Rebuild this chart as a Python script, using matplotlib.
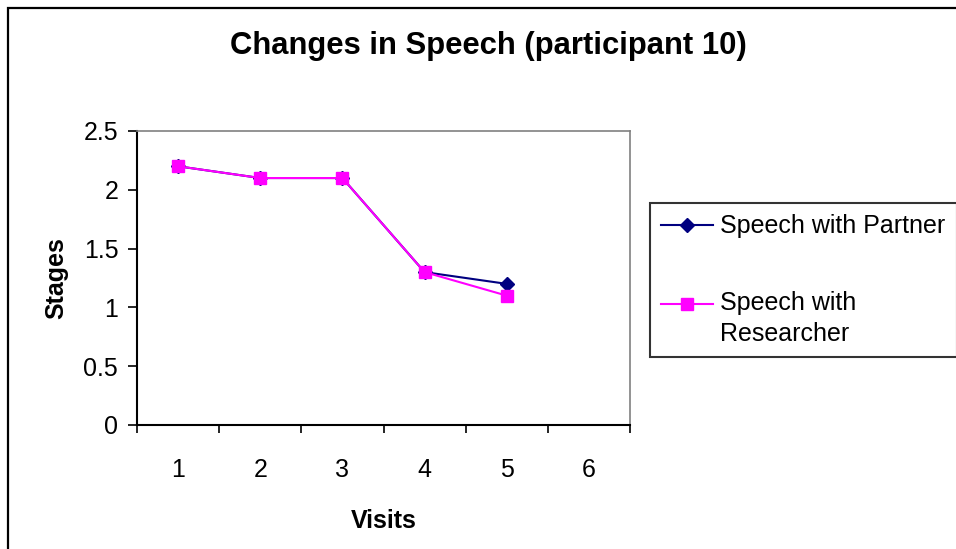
import matplotlib.pyplot as plt
from matplotlib.patches import Rectangle
from matplotlib.legend_handler import HandlerLine2D
from matplotlib.transforms import Affine2D

visits = [1, 2, 3, 4, 5]
visit_labels = ["1", "2", "3", "4", "5", "6"]
partner = [2.2, 2.1, 2.1, 1.3, 1.2]
researcher = [2.2, 2.1, 2.1, 1.3, 1.1]
y_ticks = [0, 0.5, 1, 1.5, 2, 2.5]
y_labels = ["0", "0.5", "1", "1.5", "2", "2.5"]

plt.rcParams['font.family'] = ['Liberation Sans', 'DejaVu Sans']
FS = 18


class FirstLineHandler(HandlerLine2D):
    # put the legend marker next to the first line of a two-line label
    def create_artists(self, legend, orig_handle, xdescent, ydescent,
                       width, height, fontsize, trans):
        arts = super().create_artists(legend, orig_handle, xdescent, ydescent,
                                      width, height, fontsize, trans)
        shift = Affine2D().translate(0, 0.6 * fontsize)
        for a in arts:
            a.set_transform(shift + trans)
        return arts


W, H = 956, 549
fig = plt.figure(figsize=(W / 100, H / 100), dpi=100)
fig.patch.set_facecolor("white")

# outer chart frame (runs off the right and bottom edges)
fig.patches.append(Rectangle((8 / W, -0.1), 1.2, 1 - 8 / H + 0.1,
                             transform=fig.transFigure, fill=False,
                             edgecolor="black", linewidth=1.6))

ax = fig.add_axes([137 / W, 1 - 425 / H, 493 / W, 294 / H])
ln1, = ax.plot(visits, partner, color="#000080", marker="D", markersize=7.5,
               linewidth=1.5, label="Speech with Partner", zorder=3)
ln2, = ax.plot(visits, researcher, color="#FF00FF", marker="s", markersize=8.5,
               linewidth=1.5, label="Speech with\nResearcher", zorder=4)

ax.set_xlim(0.5, 6.5)
ax.set_ylim(0, 2.5)
ax.set_xticks([i + 0.5 for i in range(0, 7)])
ax.set_xticklabels([])
ax.set_xticks(range(1, 7), minor=True)
ax.set_xticklabels(visit_labels, minor=True, fontsize=FS)
ax.tick_params(axis="x", which="minor", length=0, pad=24)
ax.tick_params(axis="x", which="major", length=6, width=1.2, direction="out")
ax.set_yticks(y_ticks)
ax.set_yticklabels(y_labels, fontsize=FS)
ax.tick_params(axis="y", length=6.5, width=1.2, direction="out", pad=7)

for s in ["top", "right"]:
    ax.spines[s].set_color("#808080")
    ax.spines[s].set_linewidth(1.2)
for s in ["left", "bottom"]:
    ax.spines[s].set_color("black")
    ax.spines[s].set_linewidth(1.5)

ax.set_xlabel("Visits", fontsize=FS, fontweight="bold", labelpad=19)
ax.set_ylabel("Stages", fontsize=FS, fontweight="bold", labelpad=11)

fig.text(488 / W, 1 - 46 / H, "Changes in Speech (participant 10)",
         ha="center", va="center", fontsize=22.3, fontweight="bold")

leg = fig.legend(loc="upper left", bbox_to_anchor=(650 / W, 1 - 203 / H),
                 fontsize=FS, frameon=True, fancybox=False, shadow=False,
                 edgecolor="black", labelspacing=2.1, handlelength=2.05,
                 handletextpad=0.3, borderpad=0.45, borderaxespad=0,
                 handler_map={ln2: FirstLineHandler()})
leg.get_frame().set_linewidth(1.5)
for t in leg.get_texts():
    t.set_linespacing(1.38)

fig.savefig("out.png", dpi=100)
